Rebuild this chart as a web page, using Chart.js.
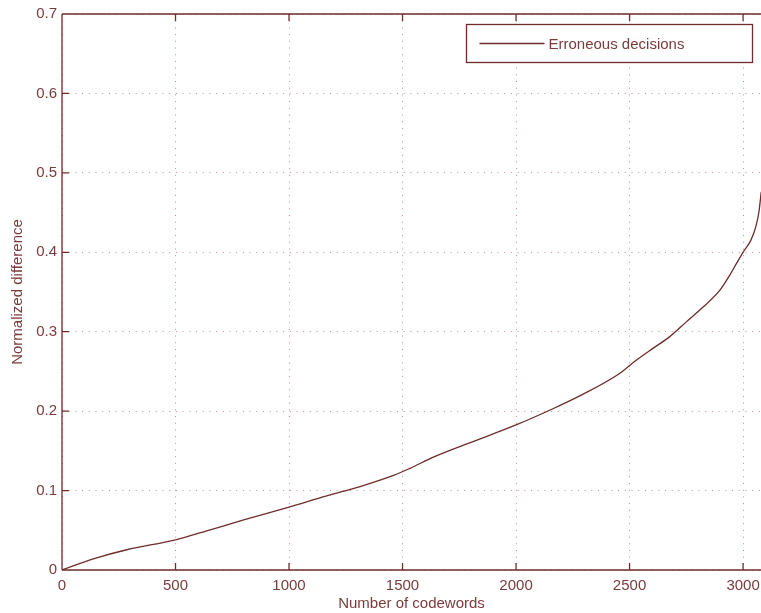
<!DOCTYPE html>
<html>
<head>
<meta charset="utf-8">
<script src="https://cdn.jsdelivr.net/npm/chart.js@4/dist/chart.umd.min.js"></script>
<style>
  html, body { margin: 0; padding: 0; background: #ffffff; }
  #wrap { width: 761px; height: 613px; position: relative; }
</style>
</head>
<body>
<div id="wrap"><canvas id="c"></canvas></div>
<script>
// Sorted normalized differences of the erroneous decisions
const codewordIndex = [0, 138, 285, 500, 653, 800, 1000, 1166, 1313, 1460, 1533, 1636, 1783, 2000, 2150, 2300, 2456, 2529, 2603, 2676, 2750, 2824, 2897, 2941, 2971, 3000, 3034, 3056, 3070, 3080];
const normalizedDiff = [0, 0.014, 0.0255, 0.038, 0.0506, 0.063, 0.0792, 0.0934, 0.105, 0.119, 0.128, 0.142, 0.1587, 0.1826, 0.2014, 0.222, 0.2475, 0.264, 0.279, 0.2935, 0.3124, 0.331, 0.352, 0.371, 0.386, 0.4, 0.415, 0.432, 0.451, 0.476];
const xTickValues = [0, 500, 1000, 1500, 2000, 2500, 3000];
const yTickValues = [0, 0.1, 0.2, 0.3, 0.4, 0.5, 0.6, 0.7];
const seriesLabel = 'Erroneous decisions';
const xTitle = 'Number of codewords';
const yTitle = 'Normalized difference';

const INK = '#6e2c2c';
const TEXT = '#7a3b3b';
const GRID = '#b89090';
const FONT = { family: "'Liberation Sans', Arial, Helvetica, sans-serif", size: 15 };

// Axis box with inward tick marks on the left, bottom and top edges
const framePlugin = {
  id: 'frame',
  afterDatasetsDraw(chart) {
    const { ctx, chartArea: a, scales: { x, y } } = chart;
    const L = 7;
    ctx.save();
    ctx.strokeStyle = INK;
    ctx.lineWidth = 1.3;
    ctx.beginPath();
    ctx.moveTo(a.left, a.top); ctx.lineTo(a.right + 2, a.top);
    ctx.moveTo(a.left, a.top); ctx.lineTo(a.left, a.bottom);
    ctx.moveTo(a.left, a.bottom); ctx.lineTo(a.right + 2, a.bottom);
    x.ticks.forEach(t => {
      const px = x.getPixelForValue(t.value);
      ctx.moveTo(px, a.bottom); ctx.lineTo(px, a.bottom - L);
      ctx.moveTo(px, a.top); ctx.lineTo(px, a.top + L);
    });
    y.ticks.forEach(t => {
      const py = y.getPixelForValue(t.value);
      ctx.moveTo(a.left, py); ctx.lineTo(a.left + L, py);
    });
    ctx.stroke();
    ctx.restore();
  }
};

// Boxed legend in the upper right corner of the axes
const boxLegendPlugin = {
  id: 'boxLegend',
  afterDraw(chart) {
    const { ctx, chartArea: a } = chart;
    const ds = chart.data.datasets[0];
    const bx = a.left + 404.5, by = a.top + 10.5, bw = 286, bh = 38;
    ctx.save();
    ctx.fillStyle = '#ffffff';
    ctx.fillRect(bx, by, bw, bh);
    ctx.strokeStyle = INK;
    ctx.lineWidth = 1.3;
    ctx.strokeRect(bx, by, bw, bh);
    const cy = by + bh / 2;
    ctx.strokeStyle = ds.borderColor;
    ctx.lineWidth = ds.borderWidth;
    ctx.beginPath();
    ctx.moveTo(bx + 13, cy); ctx.lineTo(bx + 78, cy);
    ctx.stroke();
    ctx.fillStyle = TEXT;
    ctx.font = `${FONT.size}px ${FONT.family}`;
    ctx.textBaseline = 'middle';
    ctx.textAlign = 'left';
    ctx.fillText(ds.label, bx + 82, cy + 1);
    ctx.restore();
  }
};

const plainLabel = v => String(Math.round(v * 1000) / 1000);

new Chart(document.getElementById('c'), {
  type: 'line',
  data: {
    datasets: [{
      label: seriesLabel,
      data: codewordIndex.map((v, i) => ({ x: v, y: normalizedDiff[i] })),
      borderColor: INK,
      borderWidth: 1.3,
      pointRadius: 0,
      fill: false,
      cubicInterpolationMode: 'monotone'
    }]
  },
  options: {
    responsive: true,
    maintainAspectRatio: false,
    animation: false,
    layout: { padding: { top: 14, left: 0, right: 0, bottom: 0 } },
    plugins: {
      legend: { display: false },
      tooltip: { enabled: false }
    },
    scales: {
      x: {
        type: 'linear',
        min: 0,
        max: 3079,
        afterBuildTicks(s) { s.ticks = xTickValues.map(v => ({ value: v })); },
        afterFit(s) { s.height = 43; s.paddingLeft = 0; s.paddingRight = 0; },
        ticks: { callback: plainLabel, color: TEXT, font: FONT, padding: 7, maxRotation: 0, autoSkip: false },
        grid: { color: GRID, lineWidth: 1, drawTicks: false },
        border: { display: false, dash: [1, 5.7] },
        title: { display: true, text: xTitle, color: TEXT, font: FONT, padding: { top: 0, bottom: 0 } }
      },
      y: {
        type: 'linear',
        min: 0,
        max: 0.7,
        afterBuildTicks(s) { s.ticks = yTickValues.map(v => ({ value: v })); },
        afterFit(s) { s.width = 62; s.paddingTop = 0; s.paddingBottom = 0; },
        ticks: { callback: plainLabel, color: TEXT, font: FONT, padding: 5, autoSkip: false },
        grid: { color: GRID, lineWidth: 1, drawTicks: false },
        border: { display: false, dash: [1, 5.7] },
        title: { display: true, text: yTitle, color: TEXT, font: FONT, padding: { top: 9, bottom: 0 } }
      }
    }
  },
  plugins: [framePlugin, boxLegendPlugin]
});
</script>
</body>
</html>
